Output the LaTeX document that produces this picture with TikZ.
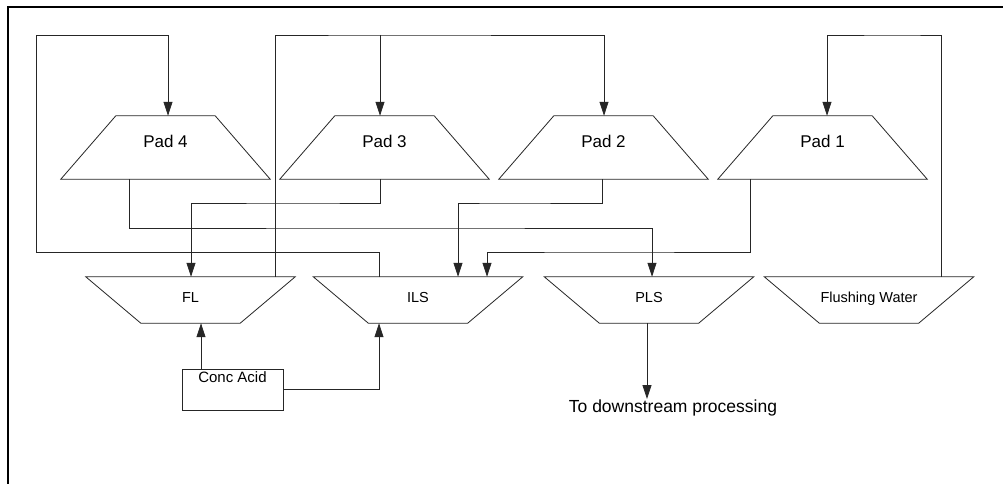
\documentclass[tikz,border=0pt]{standalone}
\usepackage{fontspec}
\setmainfont{Liberation Sans}
\usetikzlibrary{arrows.meta}
\tikzset{
  ln/.style={line width=0.8pt, draw=black!85},
  arr/.style={ln, -{Triangle[width=9pt,length=14pt]}},
  padbox/.style={minimum width=209pt, minimum height=63pt, inner sep=0pt, text depth=12pt, font=\fontsize{17}{20}\selectfont},
  tankbox/.style={minimum width=209pt, minimum height=46pt, inner sep=0pt, text depth=5pt, font=\fontsize{14.5}{17}\selectfont},
  acidbox/.style={draw=black!85, line width=0.8pt, minimum width=101pt, minimum height=41pt, inner sep=0pt},
  plain/.style={inner sep=1pt, font=\fontsize{17.5}{20}\selectfont},
}
\newcommand\padshape[1]{\draw[ln] ([xshift=55pt]#1.north west) -- ([xshift=-55pt]#1.north east) -- (#1.south east) -- (#1.south west) -- cycle;}
\newcommand\tankshape[1]{\draw[ln] (#1.north west) -- (#1.north east) -- ([xshift=-55pt]#1.south east) -- ([xshift=55pt]#1.south west) -- cycle;}
\begin{document}
\begin{tikzpicture}[x=1pt, y=-1pt]
\useasboundingbox (0,0) rectangle (1003,484);
\fill[white] (0,0) rectangle (1003,484);
% frame
\draw[line width=2.5pt, black] (8,484) -- (8,7) -- (1003,7);

% pads
\node[padbox] (pad4) at (165.5,147.5) {Pad 4};
\node[padbox] (pad3) at (384.5,147.5) {Pad 3};
\node[padbox] (pad2) at (603.5,147.5) {Pad 2};
\node[padbox] (pad1) at (822.5,147.5) {Pad 1};
\padshape{pad4}\padshape{pad3}\padshape{pad2}\padshape{pad1}

% tanks
\node[tankbox] (fl)  at (190.5,300) {FL};
\node[tankbox] (ils) at (418,300) {ILS};
\node[tankbox] (pls) at (649,300) {PLS};
\node[tankbox] (fw)  at (869,300) {Flushing Water};
\tankshape{fl}\tankshape{ils}\tankshape{pls}\tankshape{fw}

% conc acid
\node[acidbox, label={[anchor=north, inner sep=3pt, font=\fontsize{15}{18}\selectfont]north:Conc Acid}] (acid) at (232.5,389.5) {};

% downstream text
\node[plain, anchor=north] (ds) at (673,399) {To downstream processing};

% ILS -> Pad 4
\draw[arr] ([xshift=-39pt]ils.north) |- (36,252) -- (36,35) -| ([xshift=2.5pt]pad4.north);
% FL -> Pad 3, Pad 2
\coordinate (j3) at (380,35);
\draw[arr] ([xshift=84.5pt]fl.north) |- (j3) -| ([xshift=0.5pt]pad2.north);
\draw[arr] (j3) -- ([xshift=-4.5pt]pad3.north);
% Flushing Water -> Pad 1
\draw[arr] ([xshift=72pt]fw.north) |- (900,35) -| ([xshift=4.5pt]pad1.north);

% Pad 4 -> PLS
\draw[arr] ([xshift=-36.5pt]pad4.south) |- (400,228) -| ([xshift=3pt]pls.north);
% Pad 3 -> FL
\draw[arr] ([xshift=-4.5pt]pad3.south) |- (300,203) -| ([xshift=0.5pt]fl.north);
% Pad 2 -> ILS
\draw[arr] ([xshift=-1.5pt]pad2.south) |- (500,203) -| ([xshift=40pt]ils.north);
% Pad 1 -> ILS
\draw[arr] ([xshift=-72.5pt]pad1.south) |- (600,252) -| ([xshift=69pt]ils.north);

% Conc Acid -> FL, ILS
\draw[arr] ([xshift=-31.5pt]acid.north) -- ([xshift=10.5pt]fl.south);
\draw[arr] (acid.east) -| ([xshift=-39pt]ils.south);

% PLS -> downstream
\draw[arr] ([xshift=-2pt]pls.south) -- ([xshift=-26pt]ds.north);
\end{tikzpicture}
\end{document}
